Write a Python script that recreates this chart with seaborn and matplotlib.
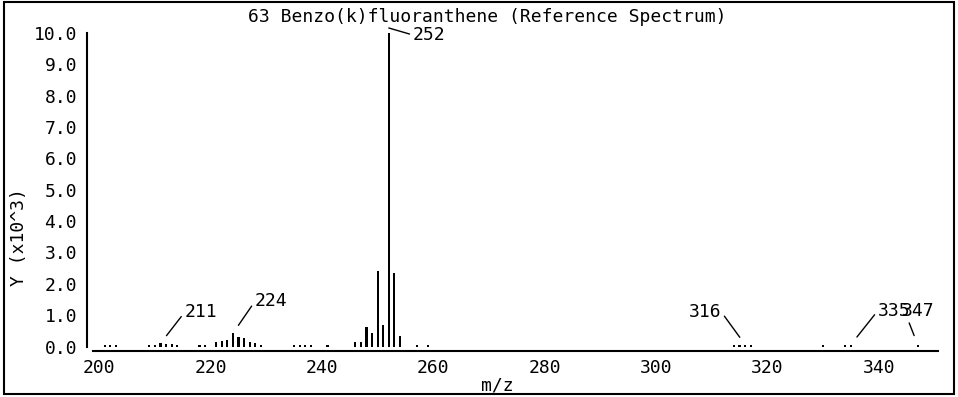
import matplotlib
matplotlib.use("Agg")
import matplotlib.pyplot as plt
import pandas as pd
import seaborn as sns
from matplotlib.patches import Rectangle

# peak list, intensity in units of 10^3
mz = [201, 202, 203,
      209, 210, 211, 212, 213, 214,
      218, 219, 221, 222, 223, 224, 225, 226, 227, 228, 229,
      235, 236, 237, 238, 241,
      246, 247, 248, 249, 250, 251, 252, 253, 254, 257, 259,
      314, 315, 316, 317, 330, 334, 335, 347]
intensity = [0.06, 0.06, 0.05,
             0.05, 0.05, 0.10, 0.07, 0.09, 0.06,
             0.05, 0.05, 0.13, 0.19, 0.21, 0.42, 0.30, 0.28, 0.14, 0.10, 0.05,
             0.05, 0.05, 0.05, 0.05, 0.05,
             0.15, 0.15, 0.63, 0.43, 2.41, 0.70, 10.0, 2.36, 0.33, 0.05, 0.05,
             0.05, 0.05, 0.06, 0.05, 0.05, 0.05, 0.06, 0.06]

# labelled peaks and where their text sits (pixel offset from peak top)
label_mz = [211, 224, 252, 316, 335, 347]
label_dx = [24, 22, 24, -24, 27, 0]
label_dy = [31, 32, -7, 33, 34, 34]
label_lift = [0, 0, 0.16, 0, 0, 0]
label_ha = ["left", "left", "left", "right", "left", "center"]
label_rel = [(0, 0.5), (0, 0.5), (0, 0.5), (1, 0.5), (0, 0.5), (0.2, 0)]
label_gap = [7, 7, 0, 6.5, 7, 7]

x_ticks = [200, 220, 240, 260, 280, 300, 320, 340]
y_ticks = [0, 1, 2, 3, 4, 5, 6, 7, 8, 9, 10]

sns.set_style("white")
plt.rcParams["font.family"] = ["DejaVu Sans Mono", "DejaVu Sans"]
plt.rcParams["text.color"] = "black"
plt.rcParams["axes.labelcolor"] = "black"
fs = 13

df = pd.DataFrame({"mz": mz, "y": intensity})

fig = plt.figure(figsize=(9.58, 3.97), dpi=100)
ax = fig.add_axes([93 / 958, 1 - 346.5 / 397, 845 / 958, 313.5 / 397])
sns.barplot(data=df, x="mz", y="y", native_scale=True, width=0.38,
            color="black", saturation=1, linewidth=0, errorbar=None, ax=ax)

ax.set_xlim(198.87, 350.65)
ax.set_ylim(0, 10)
ax.set_xticks(x_ticks)
ax.set_xticklabels([str(t) for t in x_ticks])
ax.set_yticks(y_ticks)
ax.set_yticklabels([f"{t:.1f}" for t in y_ticks])
ax.tick_params(axis="both", direction="out", length=3.6, width=1.5,
               color="black", labelcolor="black", labelsize=fs)
ax.tick_params(axis="y", pad=3.6)
ax.tick_params(axis="x", pad=2.5)

for side in ["top", "right"]:
    ax.spines[side].set_visible(False)
ax.spines["left"].set_position(("outward", 4.3))
ax.spines["left"].set_bounds(0, 10)
ax.spines["bottom"].set_position(("outward", 3.2))
for side in ["left", "bottom"]:
    ax.spines[side].set_linewidth(1.5)
    ax.spines[side].set_color("black")

ax.set_xlabel("m/z", fontsize=fs)
ax.set_ylabel("Y (x10^3)", fontsize=fs)
ax.xaxis.set_label_coords(0.479, -0.097)
ax.yaxis.set_label_coords(-0.077, 0.35)

lookup = dict(zip(mz, intensity))
for m, dx, dy, lift, ha, rel, gap in zip(label_mz, label_dx, label_dy, label_lift,
                                         label_ha, label_rel, label_gap):
    ax.annotate(str(m), xy=(m, lookup[m] + lift), xytext=(dx, dy), textcoords="offset pixels",
                ha=ha, va="center", fontsize=fs, annotation_clip=False,
                arrowprops=dict(arrowstyle="-", color="black", lw=1,
                                shrinkA=0, shrinkB=gap, relpos=rel))

fig.text(487 / 958, 1 - 17 / 397, "63 Benzo(k)fluoranthene (Reference Spectrum)",
         ha="center", va="center", fontsize=fs)
fig.patches.append(Rectangle((4 / 958, 3 / 397), 950 / 958, 392 / 397,
                             transform=fig.transFigure, fill=False,
                             edgecolor="black", linewidth=1.5))

fig.savefig("out.png", dpi=100)
